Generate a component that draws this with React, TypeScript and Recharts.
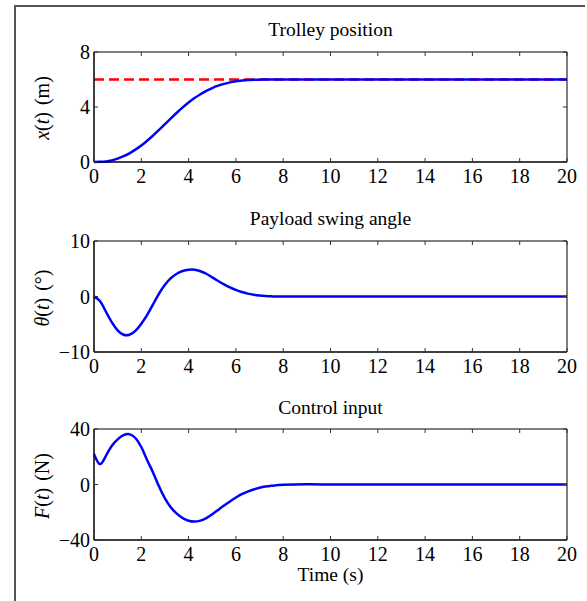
import React from "react";
import { LineChart, Line, XAxis, YAxis, ReferenceArea } from "recharts";

const FONT = '"Liberation Serif", "DejaVu Serif", serif';

// time samples (s)
const time = [
  0, 0.25, 0.5, 0.75, 1, 1.25, 1.5, 1.75, 2, 2.25, 2.5, 2.75, 3, 3.25, 3.5,
  3.75, 4, 4.25, 4.5, 4.75, 5, 5.25, 5.5, 5.75, 6, 6.25, 6.5, 6.75, 7, 7.25,
  7.5, 7.75, 8, 9, 10, 11, 12, 13, 14, 15, 16, 17, 18, 19, 20,
];

// x(t) in m
const trolleyPosition = [
  0, 0.01, 0.04, 0.12, 0.25, 0.42, 0.63, 0.9, 1.2, 1.55, 1.93, 2.33, 2.75,
  3.17, 3.58, 3.97, 4.33, 4.65, 4.93, 5.17, 5.38, 5.55, 5.68, 5.79, 5.87, 5.92,
  5.96, 5.98, 5.99, 6, 6, 6, 6, 6, 6, 6, 6, 6, 6, 6, 6, 6, 6, 6, 6,
];
const targetPosition = 6;

// theta(t) in degrees
const swingAngle = [
  0, -0.8, -2.7, -4.6, -6.1, -6.9, -6.9, -6.2, -4.9, -3.3, -1.4, 0.5, 2.1, 3.3,
  4.1, 4.6, 4.82, 4.82, 4.55, 4.1, 3.45, 2.8, 2.2, 1.65, 1.18, 0.8, 0.52, 0.32,
  0.18, 0.09, 0.03, 0, -0.02, -0.02, 0, 0, 0, 0, 0, 0, 0, 0, 0, 0, 0,
];

// F(t) in N
const controlForce = [
  22, 14.7, 20.5, 27.8, 32.5, 35.5, 36.2, 33.5, 27, 17.5, 8.5, -1.5, -10,
  -16.5, -21, -24.2, -26.1, -26.7, -26, -24.2, -21.5, -18.3, -15.2, -12.2,
  -9.4, -7, -5.1, -3.6, -2.4, -1.5, -0.9, -0.45, -0.2, 0.1, 0, 0, 0, 0, 0, 0,
  0, 0, 0, 0, 0,
];

const timeTicks = [0, 2, 4, 6, 8, 10, 12, 14, 16, 18, 20];
const positionTicks = [0, 4, 8];
const angleTicks = [-10, 0, 10];
const forceTicks = [-40, 0, 40];

const positionData = time.map((t, i) => ({
  t,
  x: trolleyPosition[i],
  ref: targetPosition,
}));
const angleData = time.map((t, i) => ({ t, theta: swingAngle[i] }));
const forceData = time.map((t, i) => ({ t, f: controlForce[i] }));

const fmt = (v: number) => (v < 0 ? "\u2212" + Math.abs(v) : String(v));

const CHART_W = 587;
const MARGIN_LEFT = 34;
const Y_AXIS_W = 60;
const MARGIN_RIGHT = 20;
const PLOT_W = CHART_W - MARGIN_LEFT - Y_AXIS_W - MARGIN_RIGHT;
const TICK_LEN = 4;
const TICK_COLOR = "#333";

// bottom tick: label below, inward tick marks on bottom and top edges
const BottomTick = ({ x, y, payload, plotH }: any) => (
  <g>
    <line x1={x} y1={y} x2={x} y2={y - TICK_LEN} stroke={TICK_COLOR} />
    <line
      x1={x}
      y1={y - plotH}
      x2={x}
      y2={y - plotH + TICK_LEN}
      stroke={TICK_COLOR}
    />
    <text
      x={x}
      y={y + 21}
      textAnchor="middle"
      fontFamily={FONT}
      fontSize={20}
      fill="#000"
    >
      {fmt(payload.value)}
    </text>
  </g>
);

// left tick: label left, inward tick marks on left and right edges
const LeftTick = ({ x, y, payload }: any) => (
  <g>
    <line x1={x} y1={y} x2={x + TICK_LEN} y2={y} stroke={TICK_COLOR} />
    <line
      x1={x + PLOT_W - TICK_LEN}
      y1={y}
      x2={x + PLOT_W}
      y2={y}
      stroke={TICK_COLOR}
    />
    <text
      x={x - 4}
      y={y + 7}
      textAnchor="end"
      fontFamily={FONT}
      fontSize={20}
      fill="#000"
    >
      {fmt(payload.value)}
    </text>
  </g>
);

function Panel({ top, plotH, data, domain, yTicks, children }: any) {
  const height = 30 + plotH + 30;
  return (
    <div style={{ position: "absolute", left: 0, top: top - 30 }}>
      <LineChart
        width={CHART_W}
        height={height}
        data={data}
        margin={{ top: 30, right: MARGIN_RIGHT, bottom: 0, left: MARGIN_LEFT }}
      >
        <XAxis
          dataKey="t"
          type="number"
          domain={[0, 20]}
          ticks={timeTicks}
          interval={0}
          height={30}
          tickSize={0}
          tickMargin={0}
          tickLine={false}
          axisLine={{ stroke: "#000" }}
          tick={(p: any) => <BottomTick {...p} plotH={plotH} />}
        />
        <YAxis
          type="number"
          domain={domain}
          ticks={yTicks}
          interval={0}
          width={Y_AXIS_W}
          tickSize={0}
          tickMargin={0}
          tickLine={false}
          axisLine={{ stroke: "#000" }}
          tick={(p: any) => <LeftTick {...p} />}
        />
        <ReferenceArea
          x1={0}
          x2={20}
          y1={domain[0]}
          y2={domain[1]}
          fill="none"
          stroke="#000"
          strokeWidth={1}
        />
        {children}
      </LineChart>
    </div>
  );
}

const YLabel = ({ cy, children }: any) => (
  <text
    x={49}
    y={cy}
    transform={`rotate(-90, 49, ${cy})`}
    textAnchor="middle"
    fontFamily={FONT}
    fontSize={20}
    fill="#000"
  >
    {children}
  </text>
);

const Title = ({ y, children }: any) => (
  <text
    x={330.5}
    y={y}
    textAnchor="middle"
    fontFamily={FONT}
    fontSize={19.5}
    fill="#000"
  >
    {children}
  </text>
);

export default function App() {
  return (
    <div
      style={{
        position: "absolute",
        left: 0,
        top: 0,
        width: 587,
        height: 601,
        overflow: "hidden",
        background: "#fff",
      }}
    >
      <div
        style={{
          position: "absolute",
          left: 14,
          top: 5,
          width: 569,
          height: 700,
          borderTop: "2px solid #555",
          borderLeft: "2px solid #555",
        }}
      />
      <Panel top={52} plotH={110} data={positionData} domain={[0, 8]} yTicks={positionTicks}>
        <Line
          type="linear"
          dataKey="ref"
          stroke="#ff0000"
          strokeWidth={2.5}
          strokeDasharray="10 5"
          dot={false}
          isAnimationActive={false}
        />
        <Line
          type="monotone"
          dataKey="x"
          stroke="#0000ff"
          strokeWidth={2.5}
          dot={false}
          isAnimationActive={false}
        />
      </Panel>
      <Panel top={241} plotH={111} data={angleData} domain={[-10, 10]} yTicks={angleTicks}>
        <Line
          type="natural"
          dataKey="theta"
          stroke="#0000ff"
          strokeWidth={2.5}
          dot={false}
          isAnimationActive={false}
        />
      </Panel>
      <Panel top={429} plotH={111} data={forceData} domain={[-40, 40]} yTicks={forceTicks}>
        <Line
          type="natural"
          dataKey="f"
          stroke="#0000ff"
          strokeWidth={2.5}
          dot={false}
          isAnimationActive={false}
        />
      </Panel>
      <svg
        width={587}
        height={601}
        style={{ position: "absolute", left: 0, top: 0, pointerEvents: "none" }}
      >
        <Title y={36}>Trolley position</Title>
        <Title y={225}>Payload swing angle</Title>
        <Title y={414}>Control input</Title>
        <Title y={581}>Time (s)</Title>
        <YLabel cy={108}>
          <tspan fontStyle="italic">x</tspan>(<tspan fontStyle="italic">t</tspan>)
          <tspan dx={7}>(m)</tspan>
        </YLabel>
        <YLabel cy={298}>
          <tspan fontStyle="italic">θ</tspan>(<tspan fontStyle="italic">t</tspan>)
          <tspan dx={7}>(°)</tspan>
        </YLabel>
        <YLabel cy={486}>
          <tspan fontStyle="italic">F</tspan>(<tspan fontStyle="italic">t</tspan>)
          <tspan dx={7}>(N)</tspan>
        </YLabel>
      </svg>
    </div>
  );
}
